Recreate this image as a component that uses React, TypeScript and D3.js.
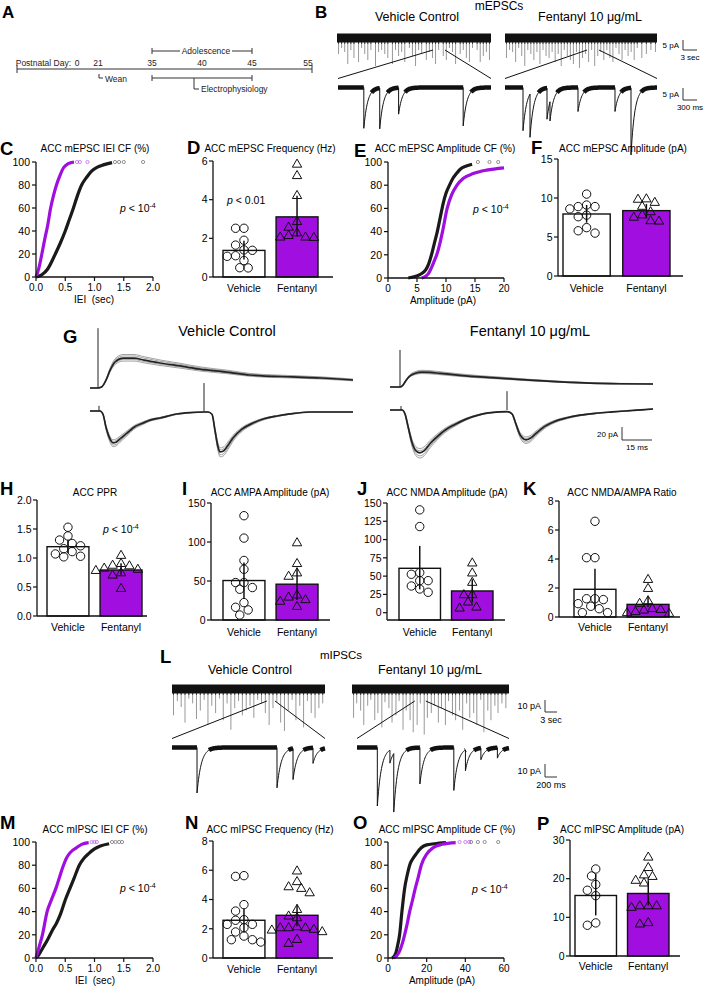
import React from "react";
import * as d3 from "d3";

const FONT = "'Liberation Sans', Arial, Helvetica, sans-serif";
const PURPLE = "#A00FDF";
const INK = "#111";

// ---------------- Panel A (timeline) ----------------
const timelineDays = [0, 21, 35, 40, 45, 55];
const adolescenceDays = [35, 45];
const ephysDays = [35, 45];
const ephysMarkerDay = 39.2;
const weanDay = 21;

// ---------------- Panel B (mEPSC traces) ----------------
const vehBPos = [0.01,0.03,0.05,0.07,0.09,0.11,0.14,0.16,0.18,0.2,0.22,0.25,0.27,0.29,0.31,0.33,0.36,0.38,0.4,0.42,0.44,0.47,0.49,0.51,0.53,0.55,0.58,0.6,0.62,0.64,0.66,0.69,0.71,0.73,0.75,0.77,0.8,0.82,0.84,0.86,0.88,0.91,0.93,0.95,0.97,0.99];
const vehBAmp = [8,5,7,13,6,10,12,5,8,11,6,14,7,6,8,10,13,6,9,7,12,5,9,14,6,8,11,7,10,13,6,9,11,5,7,13,8,6,10,12,5,6,12,9,7,11];
const fenBPos = [0.01,0.03,0.05,0.07,0.09,0.11,0.13,0.15,0.17,0.19,0.21,0.23,0.25,0.27,0.29,0.31,0.33,0.35,0.37,0.39,0.41,0.43,0.45,0.47,0.49,0.51,0.53,0.55,0.57,0.59,0.61,0.63,0.65,0.67,0.69,0.71,0.73,0.75,0.77,0.79,0.81,0.83,0.85,0.87,0.9,0.93,0.96,0.99];
const fenBAmp = [10,6,7,12,5,9,14,6,8,11,7,13,6,9,10,7,12,8,14,6,9,11,13,7,15,10,8,12,6,14,9,7,11,6,10,12,5,8,11,6,9,7,11,5,10,8,6,7];
const vehBZoomT = [557, 900, 1307, 2700];
const vehBZoomA = [17, 17, 11, 16];
const fenBZoomT = [386, 536, 900, 964, 1564, 2357, 2700];
const fenBZoomA = [18, 18, 13, 8, 10, 10, 28];

// ---------------- Panel C ----------------
const cVehX = [0, 0.1, 0.2, 0.33, 0.42, 0.5, 0.57, 0.64, 0.71, 0.78, 0.87, 0.95, 1.05, 1.15, 1.3];
const cVehY = [0, 2, 7, 20, 30, 40, 50, 60, 71, 80, 87, 92, 95.5, 97.5, 99.5];
const cFenX = [0, 0.05, 0.1, 0.15, 0.2, 0.25, 0.3, 0.35, 0.4, 0.47, 0.55, 0.65];
const cFenY = [0, 8, 20, 33, 45, 60, 71, 80, 87, 95, 98.5, 100];
const cVehTail = [1.35, 1.42, 1.5, 1.83];
const cFenTail = [0.7, 0.75, 0.88];

// ---------------- Panel D ----------------
const dVeh = [2.52, 2.52, 1.9, 1.65, 1.4, 1.38, 1.07, 1.1, 0.85, 0.47, 0.48];
const dFen = [5.82, 5.23, 4.2, 2.85, 2.05, 2.27, 2.05, 2.56, 2.13, 2.03];
const dMean = [1.375, 3.11];
const dLo = [0.9, 2.1];
const dHi = [1.87, 4.2];

// ---------------- Panel E ----------------
const eVehX = [3.5, 4.5, 5.5, 6.5, 7, 7.5, 8, 8.5, 9, 9.5, 10, 10.6, 11.2, 11.8, 12.5, 13.5, 14.5];
const eVehY = [0, 1, 3, 7, 12, 20, 30, 40, 52, 64, 73, 80, 86, 90, 94, 96.5, 98];
const eFenX = [5.8, 6.5, 7, 7.5, 8, 8.4, 9, 9.4, 10.2, 11, 11.9, 13, 14.7, 17, 20];
const eFenY = [0, 1.5, 4, 9, 15, 20, 31, 40, 60, 72, 80, 86, 90, 93, 95];
const eVehTail = [15.5, 17.5, 19];
const eFenTail: number[] = [];

// ---------------- Panel F ----------------
const fVeh = [10.5, 8.6, 8.9, 9.1, 8.9, 7.6, 7.8, 6.2, 5.5, 5.8];
const fFen = [9.4, 9.8, 9.85, 8.9, 7.8, 8.2, 7.0, 7.5, 7.05];
const fMean = [7.95, 8.38];
const fLo = [6.83, 7.4];
const fHi = [9.1, 9.24];

// ---------------- Panel G (evoked currents, ms / pA) ----------------
const gVehNT = [0, 4, 6, 8, 10, 12.5, 16.5, 22, 27, 35, 45, 55, 68.5, 80, 101.5, 115, 131.5];
const gVehNV = [0, 0, 2, 12, 27, 40, 46, 46, 43, 38.5, 34, 29, 24.5, 20, 17, 15.4, 12.3];
const gVehAT = [0, 5, 6.5, 8, 10, 11.5, 13, 15, 18.5, 22, 26.5, 30, 35, 43.5, 50, 57, 59, 61, 62.5, 64, 65, 66.5, 68.5, 71.5, 76, 81.5, 87, 93.5, 100, 110, 131.5];
const gVehAV = [0, 0, -5, -25, -43, -49, -48, -43, -34, -25, -18.5, -14, -10.8, -4.6, -2.5, -1.5, -1.5, -5, -30, -55, -63, -62, -55, -41.5, -28, -18.5, -12, -7.7, -4.5, -1.5, -1.5];
const gFenNT = [0, 5, 6.5, 8, 10, 13, 16, 20, 25, 35, 45, 54.5, 70, 85, 100, 115, 131.5];
const gFenNV = [0, 0, 3, 10, 17, 21.5, 23, 22.5, 21, 18, 15.5, 13.8, 10.5, 8, 6, 5, 4.6];
const gFenAT = [0, 6, 7.5, 9, 11, 13, 15, 17, 20, 24, 28, 32, 38, 45, 54.5, 58.5, 61, 63, 65, 68, 70, 73, 77, 82, 88.5, 95, 103, 111, 120, 131.5];
const gFenAV = [0, 0, -6, -25, -50, -63, -66, -63, -52, -40, -30, -23, -14, -7, -3, -2.5, -6, -22, -38, -46, -44, -36, -26, -18, -12, -8, -5, -3, -1, 1.5];
const gVehNStim = [[4, 92]];
const gVehAStim = [[4.5, 8], [57, 43]];
const gFenNStim = [[5, 57]];
const gFenAStim = [[5.5, 6], [58.5, 29]];
const gReplicates = [0.9, 0.95, 1.07, 1.12];
const gDuration = 131.5;

// ---------------- Panel H ----------------
const hVeh = [1.31, 1.38, 1.53, 1.16, 1.11, 1.21, 1.25, 1.03, 1.02, 1.07];
const hFen = [1.04, 0.82, 0.86, 0.9, 0.87, 0.74, 0.7, 0.47, 0.78, 0.8];
const hMean = [1.195, 0.793];
const hLo = [1.08, 0.71];
const hHi = [1.31, 0.91];

// ---------------- Panel I ----------------
const iVeh = [133.7, 105, 76.3, 65, 41.6, 48, 48, 39.4, 22.3, 16.3, 12.9, 6.4];
const iFen = [98.6, 72, 55.7, 60, 29, 31.7, 17, 25.7, 23.6];
const iMean = [50.6, 45.9];
const iLo = [27.9, 25.7];
const iHi = [73.7, 67];

// ---------------- Panel J ----------------
const jVeh = [140.6, 117.8, 52.5, 54.8, 43.8, 36.5, 43.8, 27.9, 32.4];
const jFen = [67.6, 53.9, 41.1, 24.2, 24.2, 14.2, 5.9, 7.3];
const jMean = [60.7, 29.7];
const jLo = [32, 13.7];
const jHi = [91.3, 45.7];

// ---------------- Panel K ----------------
const kVeh = [6.6, 4.09, 4.09, 1.26, 1.2, 1.26, 0.74, 0.92, 0.57, 0.3, 0.3];
const kFen = [2.57, 1.95, 0.92, 1.1, 0.35, 0.5, 0.28, 0.46, 0.57, 0.23];
const kMean = [1.91, 0.87];
const kLo = [0.57, 0.69];
const kHi = [3.33, 1.45];

// ---------------- Panel L (mIPSC traces) ----------------
const vehLPos = [0.01,0.035,0.06,0.085,0.11,0.135,0.16,0.185,0.21,0.235,0.26,0.285,0.31,0.335,0.36,0.385,0.41,0.435,0.46,0.485,0.51,0.535,0.56,0.585,0.61,0.635,0.66,0.685,0.71,0.735,0.76,0.785,0.81,0.835,0.86,0.885,0.91,0.935,0.96,0.985];
const vehLAmp = [22,10,15,28,8,12,25,18,9,30,14,20,8,26,12,34,16,10,22,18,14,24,9,12,20,30,16,11,28,35,18,9,26,14,32,10,20,24,16,12];
const fenLPos = [0.01,0.03,0.055,0.075,0.1,0.12,0.145,0.165,0.19,0.21,0.235,0.255,0.28,0.3,0.325,0.345,0.37,0.39,0.415,0.435,0.46,0.48,0.505,0.525,0.55,0.57,0.595,0.615,0.64,0.66,0.685,0.705,0.73,0.75,0.775,0.795,0.82,0.84,0.865,0.885,0.91,0.93,0.955,0.98];
const fenLAmp = [24,12,18,30,14,9,26,20,32,11,16,28,22,10,34,18,26,36,30,12,38,24,20,14,28,16,30,10,22,26,18,34,12,24,20,30,9,36,18,26,14,20,12,16];
const vehLZoomT = [417, 1750, 2017, 2350];
const vehLZoomA = [35, 31, 24, 12];
const fenLZoomT = [350, 567, 633, 1083, 1667, 1867, 2133, 2417];
const fenLZoomA = [45, 10, 45, 28, 33, 16, 9, 8];

// ---------------- Panel M ----------------
const mVehX = [0, 0.05, 0.12, 0.2, 0.28, 0.35, 0.42, 0.5, 0.58, 0.66, 0.74, 0.82, 0.9, 1.0, 1.1, 1.25];
const mVehY = [0, 3, 9, 16, 24, 30, 38, 50, 60, 70, 80, 86, 90, 94, 96.5, 98.5];
const mFenX = [0, 0.05, 0.11, 0.19, 0.27, 0.34, 0.41, 0.47, 0.52, 0.57, 0.63, 0.69, 0.78, 0.9];
const mFenY = [0, 9, 20, 40, 51, 60, 71, 80, 86, 90, 93, 95, 98, 99.5];
const mVehTail = [1.3, 1.36, 1.42, 1.47];
const mFenTail = [0.95, 1.0, 1.04];

// ---------------- Panel N ----------------
const nVeh = [5.58, 5.63, 3.65, 3.21, 2.62, 2.58, 1.78, 2.07, 2.3, 2.3, 1.5, 1.09, 1.25, 1.25];
const nFen = [5.93, 5.2, 4.74, 4.85, 4.44, 3.3, 2.85, 2.73, 2.05, 2.12, 2.05, 2.05, 1.89, 1.78, 1.94, 1.25, 0.98];
const nMean = [2.58, 2.92];
const nLo = [1.78, 2.17];
const nHi = [3.37, 3.65];

// ---------------- Panel O ----------------
const oVehX = [2, 3, 4, 5, 6, 7.2, 8.6, 10, 11.2, 13, 14.7, 17.2, 20, 24, 30];
const oVehY = [0, 1, 4, 11, 20, 40, 60, 72, 80, 86, 90, 95, 97.5, 98.5, 99.5];
const oFenX = [3, 4.5, 6, 7.5, 8.6, 10, 11.2, 12.7, 14.1, 15.7, 17.2, 20.2, 23.3, 28, 35];
const oFenY = [0, 2, 6, 13, 20, 30, 40, 50, 60, 70, 80, 90, 95, 98, 99.5];
const oVehTail = [43, 46.5, 50, 57];
const oFenTail = [37, 40, 42];

// ---------------- Panel P ----------------
const pVeh = [22.5, 20.7, 18.5, 17, 15.6, 7.95, 8.56];
const pFen = [25.5, 22.8, 20.5, 20.9, 18.8, 19.5, 12.9, 12.5, 12.9, 12.9, 8.2, 8.56];
const pMean = [15.65, 16.17];
const pLo = [10.5, 13.1];
const pHi = [21.2, 19.6];

const groups = ["Vehicle", "Fentanyl"];

// ======================================================================
function Letter({ x, y, t, size = 18.5 }: any) {
  return (
    <text x={x} y={y} fontSize={size} fontWeight="bold" fontFamily={FONT} fill="#000">
      {t}
    </text>
  );
}

function PText({ x, y, v }: any) {
  return (
    <text x={x} y={y} fontSize={10.5} fontFamily={FONT} fill="#000">
      <tspan fontStyle="italic">p</tspan>
      {v ? ` < ${v}` : " < 10"}
      {v ? null : (
        <tspan dy={-4.5} fontSize={7}>
          -4
        </tspan>
      )}
    </text>
  );
}

function swarm(ys: number[], r: number): number[] {
  const idx = ys.map((_, i) => i).sort((a, b) => ys[a] - ys[b]);
  const placed: { x: number; y: number }[] = [];
  const out = new Array(ys.length).fill(0);
  for (const i of idx) {
    for (let k = 0; k < 60; k++) {
      const off = (k % 2 === 0 ? 1 : -1) * Math.ceil(k / 2) * r;
      if (placed.every((p) => Math.hypot(p.x - off, p.y - ys[i]) >= 2 * r * 0.93)) {
        out[i] = off;
        placed.push({ x: off, y: ys[i] });
        break;
      }
    }
  }
  return out;
}

function BarPanel(props: any) {
  const { ax, right, top, bottom, domain, ticks, fmt, band, veh, fen, mean, lo, hi, title, titleX, titleY, letter, letterX, letterY, labelY } = props;
  const y = d3.scaleLinear().domain(domain).range([bottom, top]);
  const xb = d3.scaleBand<string>().domain(groups).range(band).paddingInner(0.21);
  const f = d3.format(fmt || "d");
  const tri = d3.symbol().type(d3.symbolTriangle).size(38)() as string;
  const R = 4.2;
  const sets = [veh, fen];
  return (
    <g fontFamily={FONT}>
      <Letter x={letterX} y={letterY} t={letter} />
      <text x={titleX} y={titleY} fontSize={10} textAnchor="middle">{title}</text>
      {groups.map((g, gi) => (
        <rect key={g} x={xb(g)} y={y(mean[gi])} width={xb.bandwidth()} height={y(domain[0]) - y(mean[gi])}
          fill={gi === 0 ? "#fff" : PURPLE} stroke={INK} strokeWidth={1.4} />
      ))}
      {groups.map((g, gi) => {
        const cx = (xb(g) as number) + xb.bandwidth() / 2;
        const ys = sets[gi].map((v: number) => y(v));
        const offs = swarm(ys, R);
        return ys.map((yy: number, i: number) =>
          gi === 0 ? (
            <circle key={g + i} cx={cx + offs[i]} cy={yy} r={R} fill="none" stroke={INK} strokeWidth={1} />
          ) : (
            <path key={g + i} d={tri} transform={`translate(${cx + offs[i]},${yy})`} fill="none" stroke={INK} strokeWidth={1} />
          )
        );
      })}
      {groups.map((g, gi) => {
        const cx = (xb(g) as number) + xb.bandwidth() / 2;
        return <line key={"e" + g} x1={cx} x2={cx} y1={y(lo[gi])} y2={y(hi[gi])} stroke={INK} strokeWidth={1.5} />;
      })}
      <line x1={ax} x2={ax} y1={top} y2={bottom} stroke={INK} strokeWidth={1.3} />
      <line x1={ax} x2={right} y1={bottom} y2={bottom} stroke={INK} strokeWidth={1.3} />
      {ticks.map((tk: number) => (
        <g key={tk}>
          <line x1={ax - 4} x2={ax} y1={y(tk)} y2={y(tk)} stroke={INK} strokeWidth={1.2} />
          <text x={ax - 5.5} y={y(tk) + 3.8} fontSize={10.5} textAnchor="end">{f(tk)}</text>
        </g>
      ))}
      {groups.map((g) => (
        <text key={"l" + g} x={(xb(g) as number) + xb.bandwidth() / 2} y={labelY} fontSize={10.5} textAnchor="middle">{g}</text>
      ))}
    </g>
  );
}

function CdfPanel(props: any) {
  const { l, r, t, b, xDomain, xTicks, fmt, xLabel, xLabelX, veh, fen, vehTail, fenTail, title, titleX, titleY, letter, letterX, letterY, pX, pY } = props;
  const x = d3.scaleLinear().domain(xDomain).range([l, r]);
  const y = d3.scaleLinear().domain([0, 100]).range([b, t]);
  const line = d3.line<number[]>().x((d) => x(d[0])).y((d) => y(d[1])).curve(d3.curveMonotoneX);
  const f = d3.format(fmt || "d");
  const yTicks = [0, 20, 40, 60, 80, 100];
  return (
    <g fontFamily={FONT}>
      <Letter x={letterX} y={letterY} t={letter} />
      <text x={titleX} y={titleY} fontSize={10} textAnchor="middle">{title}</text>
      <path d={line(veh) as string} fill="none" stroke="#1a1a1a" strokeWidth={3.2} />
      <path d={line(fen) as string} fill="none" stroke={PURPLE} strokeWidth={3.2} />
      {vehTail.map((v: number, i: number) => (
        <circle key={"vt" + i} cx={x(v)} cy={y(100)} r={1.6} fill="none" stroke="#777" strokeWidth={0.8} />
      ))}
      {fenTail.map((v: number, i: number) => (
        <circle key={"ft" + i} cx={x(v)} cy={y(100)} r={1.6} fill="none" stroke={PURPLE} strokeWidth={0.8} opacity={0.6} />
      ))}
      <line x1={l} x2={l} y1={t} y2={b} stroke={INK} strokeWidth={1.3} />
      <line x1={l} x2={r} y1={b} y2={b} stroke={INK} strokeWidth={1.3} />
      {yTicks.map((tk) => (
        <g key={"y" + tk}>
          <line x1={l - 4} x2={l} y1={y(tk)} y2={y(tk)} stroke={INK} strokeWidth={1.2} />
          <text x={l - 6} y={y(tk) + 3.8} fontSize={10.5} textAnchor="end">{tk}</text>
        </g>
      ))}
      {xTicks.map((tk: number) => (
        <g key={"x" + tk}>
          <line x1={x(tk)} x2={x(tk)} y1={b} y2={b + 4} stroke={INK} strokeWidth={1.2} />
          <text x={x(tk)} y={b + 13.5} fontSize={10} textAnchor="middle">{f(tk)}</text>
        </g>
      ))}
      <text x={xLabelX} y={b + 25.5} fontSize={10} textAnchor="middle" xmlSpace="preserve">{xLabel}</text>
      <PText x={pX} y={pY} />
    </g>
  );
}

function Overview({ x0, x1, yc, bandH, pos, amp, pxPerPA }: any) {
  const x = d3.scaleLinear().domain([0, 1]).range([x0, x1]);
  return (
    <g>
      {pos.map((p: number, i: number) => (
        <line key={i} x1={x(p)} x2={x(p)} y1={yc} y2={yc + amp[i] * pxPerPA} stroke="#8c8c8c" strokeWidth={0.9} />
      ))}
      {pos.map((p: number, i: number) => (
        <line key={"k" + i} x1={x(p)} x2={x(p)} y1={yc} y2={yc + bandH / 2 + 1.5} stroke="#333" strokeWidth={0.9} />
      ))}
      <rect x={x0} y={yc - bandH / 2} width={x1 - x0} height={bandH} fill={INK} />
    </g>
  );
}

function ZoomTrace({ x0, x1, yc, dur, evT, evA, pxPerPA, tau }: any) {
  const x = d3.scaleLinear().domain([0, dur]).range([x0, x1]);
  const ts: number[] = d3.range(0, dur, dur / ((x1 - x0) * 2));
  evT.forEach((te: number) => ts.push(te - 0.01, te));
  ts.push(dur);
  ts.sort((a, b) => a - b);
  const pts = ts.map((tt) => {
    let d = 0;
    evT.forEach((te: number, i: number) => {
      if (tt >= te) d += evA[i] * Math.exp(-(tt - te) / tau);
    });
    return [tt, d];
  });
  const thin = d3.line<number[]>().x((p) => x(p[0])).y((p) => yc + p[1] * pxPerPA)(pts) as string;
  const thick = d3
    .line<number[]>()
    .defined((p) => p[1] < 2.2)
    .x((p) => x(p[0]))
    .y((p) => yc + p[1] * pxPerPA)(pts) as string;
  return (
    <g>
      <path d={thin} fill="none" stroke={INK} strokeWidth={1} />
      <path d={thick} fill="none" stroke={INK} strokeWidth={4.5} />
    </g>
  );
}

function TraceSet(props: any) {
  const { ox0, ox1, oyc, obandH, pos, amp, opx, zx0, zx1, zyc, dur, evT, evA, zpx, tau, win } = props;
  const ox = d3.scaleLinear().domain([0, 1]).range([ox0, ox1]);
  return (
    <g>
      <Overview x0={ox0} x1={ox1} yc={oyc} bandH={obandH} pos={pos} amp={amp} pxPerPA={opx} />
      <line x1={ox(win[0])} y1={oyc + 12} x2={zx0} y2={zyc - 9} stroke={INK} strokeWidth={1} />
      <line x1={ox(win[1])} y1={oyc + 12} x2={zx1} y2={zyc - 9} stroke={INK} strokeWidth={1} />
      <ZoomTrace x0={zx0} x1={zx1} yc={zyc} dur={dur} evT={evT} evA={evA} pxPerPA={zpx} tau={tau} />
    </g>
  );
}

function ScaleBar({ x, y0, y1, x1, lab1, lab2, fs }: any) {
  return (
    <g fontFamily={FONT} fontSize={fs}>
      <line x1={x} x2={x} y1={y0} y2={y1} stroke="#333" strokeWidth={1} />
      <line x1={x} x2={x1} y1={y1} y2={y1} stroke="#333" strokeWidth={1} />
      <text x={x - 4} y={(y0 + y1) / 2 + 3} textAnchor="end">{lab1}</text>
      <text x={(x + x1) / 2} y={y1 + fs + 2} textAnchor="middle">{lab2}</text>
    </g>
  );
}

function Evoked({ x0, yBase, t, v, stims }: any) {
  const x = d3.scaleLinear().domain([0, gDuration]).range([x0, x0 + gDuration * 2]);
  const y = d3.scaleLinear().domain([0, 20]).range([yBase, yBase - 13]);
  const pts = d3.zip(t, v) as number[][];
  const mk = (s: number) =>
    d3.line<number[]>().x((d) => x(d[0])).y((d) => y(d[1] * s)).curve(d3.curveMonotoneX)(pts) as string;
  return (
    <g>
      {gReplicates.map((s, i) => (
        <path key={i} d={mk(s)} fill="none" stroke="#9a9a9a" strokeWidth={0.9} />
      ))}
      <path d={mk(1)} fill="none" stroke="#222" strokeWidth={1.7} />
      {stims.map((s: number[], i: number) => (
        <line key={"s" + i} x1={x(s[0])} x2={x(s[0])} y1={y(0)} y2={y(s[1])} stroke="#222" strokeWidth={1} />
      ))}
    </g>
  );
}

function PanelA() {
  const x = d3.scaleLinear().domain(timelineDays).range([77, 98, 152, 202, 252, 308]);
  const fs = 8.5;
  return (
    <g fontFamily={FONT} fontSize={fs} fill="#222">
      <Letter x={2} y={18} t="A" size={17} />
      <line x1={17} x2={312} y1={69} y2={69} stroke="#333" strokeWidth={1} />
      <line x1={17} x2={17} y1={65} y2={73} stroke="#333" />
      <line x1={312} x2={312} y1={65} y2={73} stroke="#333" />
      <text x={71} y={66} textAnchor="end">Postnatal Day:</text>
      {timelineDays.map((d) => (
        <text key={d} x={x(d)} y={66} textAnchor="middle">{d}</text>
      ))}
      <line x1={x(adolescenceDays[0])} x2={x(adolescenceDays[1])} y1={51} y2={51} stroke="#333" />
      <line x1={x(adolescenceDays[0])} x2={x(adolescenceDays[0])} y1={48} y2={54} stroke="#333" />
      <line x1={x(adolescenceDays[1])} x2={x(adolescenceDays[1])} y1={48} y2={54} stroke="#333" />
      <rect x={180} y={46} width={52} height={10} fill="#fff" />
      <text x={(x(adolescenceDays[0]) + x(adolescenceDays[1])) / 2 + 4} y={54} textAnchor="middle">Adolescence</text>
      <path d={`M${x(weanDay) + 1},74 V78 H${x(weanDay) + 5}`} fill="none" stroke="#333" />
      <text x={x(weanDay) + 7} y={82}>Wean</text>
      <line x1={x(ephysDays[0])} x2={x(ephysDays[1])} y1={78} y2={78} stroke="#333" />
      <line x1={x(ephysDays[0])} x2={x(ephysDays[0])} y1={75} y2={81} stroke="#333" />
      <line x1={x(ephysDays[1])} x2={x(ephysDays[1])} y1={75} y2={81} stroke="#333" />
      <path d={`M${x(ephysMarkerDay)},78 V89 H${x(ephysMarkerDay) + 5}`} fill="none" stroke="#333" />
      <text x={x(ephysMarkerDay) + 7} y={92}>Electrophysiology</text>
    </g>
  );
}

export default function App() {
  return (
    <div style={{ position: "absolute", left: 0, top: 0 }}>
      <svg width={708} height={986} viewBox="0 0 708 986" style={{ display: "block", background: "#fff" }}>
        <rect width={708} height={986} fill="#fff" />
        <PanelA />

        {/* Panel B */}
        <g fontFamily={FONT}>
          <Letter x={315} y={18} t="B" size={17} />
          <text x={499} y={10} fontSize={12} textAnchor="middle">mEPSCs</text>
          <text x={417} y={21} fontSize={12.5} textAnchor="middle">Vehicle Control</text>
          <text x={590} y={21} fontSize={12.5} textAnchor="middle">Fentanyl 10 μg/mL</text>
        </g>
        <TraceSet ox0={337} ox1={491} oyc={38} obandH={9} pos={vehBPos} amp={vehBAmp} opx={2}
          zx0={338} zx1={491} zyc={87.5} dur={3300} evT={vehBZoomT} evA={vehBZoomA} zpx={2.4} tau={80} win={[0.623, 0.701]} />
        <TraceSet ox0={505} ox1={657} oyc={38} obandH={9} pos={fenBPos} amp={fenBAmp} opx={2}
          zx0={505} zx1={657} zyc={87.5} dur={3257} evT={fenBZoomT} evA={fenBZoomA} zpx={2.4} tau={80} win={[0.54, 0.618]} />
        <ScaleBar x={683} y0={40} y1={50} x1={697} lab1="5 pA" lab2="3 sec" fs={8} />
        <ScaleBar x={683} y0={88} y1={100} x1={697} lab1="5 pA" lab2="300 ms" fs={8} />

        {/* Row C-F */}
        <CdfPanel l={36} r={153} t={162} b={277} xDomain={[0, 2]} xTicks={[0, 0.5, 1, 1.5, 2]} fmt=".1f"
          xLabel="IEI  (sec)" xLabelX={94} veh={d3.zip(cVehX, cVehY)} fen={d3.zip(cFenX, cFenY)} vehTail={cVehTail} fenTail={cFenTail}
          title="ACC mEPSC IEI CF (%)" titleX={95} titleY={152} letter="C" letterX={0} letterY={155} pX={120} pY={212} />
        <BarPanel ax={213} right={333} top={161} bottom={277} domain={[0, 6]} ticks={[0, 2, 4, 6]} band={[223, 318]}
          veh={dVeh} fen={dFen} mean={dMean} lo={dLo} hi={dHi} title="ACC mEPSC Frequency (Hz)" titleX={270} titleY={152}
          letter="D" letterX={187} letterY={154} labelY={292} />
        <PText x={227} y={204} v="0.01" />
        <CdfPanel l={388} r={504} t={162} b={278} xDomain={[0, 20]} xTicks={[0, 5, 10, 15, 20]} fmt="d"
          xLabel="Amplitude (pA)" xLabelX={443} veh={d3.zip(eVehX, eVehY)} fen={d3.zip(eFenX, eFenY)} vehTail={eVehTail} fenTail={eFenTail}
          title="ACC mEPSC Amplitude CF (%)" titleX={445} titleY={152} letter="E" letterX={354} letterY={157} pX={473} pY={213} />
        <BarPanel ax={558} right={683} top={159} bottom={276} domain={[0, 15]} ticks={[0, 5, 10, 15]} band={[563, 670]}
          veh={fVeh} fen={fFen} mean={fMean} lo={fLo} hi={fHi} title="ACC mEPSC Amplitude (pA)" titleX={623} titleY={152}
          letter="F" letterX={531} letterY={154} labelY={292} />

        {/* Panel G */}
        <g fontFamily={FONT}>
          <Letter x={63} y={343} t="G" />
          <text x={227} y={336} fontSize={14.5} textAnchor="middle">Vehicle Control</text>
          <text x={530} y={336} fontSize={14.5} textAnchor="middle">Fentanyl 10 μg/mL</text>
        </g>
        <Evoked x0={90} yBase={388} t={gVehNT} v={gVehNV} stims={gVehNStim} />
        <Evoked x0={90} yBase={411} t={gVehAT} v={gVehAV} stims={gVehAStim} />
        <Evoked x0={390} yBase={387} t={gFenNT} v={gFenNV} stims={gFenNStim} />
        <Evoked x0={390} yBase={410} t={gFenAT} v={gFenAV} stims={gFenAStim} />
        <ScaleBar x={622} y0={427} y1={440} x1={652} lab1="20 pA" lab2="15 ms" fs={8} />

        {/* Row H-K */}
        <BarPanel ax={37} right={147} top={500} bottom={616} domain={[0, 2]} ticks={[0, 0.5, 1, 1.5, 2]} fmt=".1f" band={[47, 142]}
          veh={hVeh} fen={hFen} mean={hMean} lo={hLo} hi={hHi} title="ACC PPR" titleX={95} titleY={496}
          letter="H" letterX={0} letterY={495} labelY={631} />
        <PText x={103} y={533} />
        <BarPanel ax={211} right={330} top={503} bottom={620} domain={[0, 150]} ticks={[0, 50, 100, 150]} band={[223, 318]}
          veh={iVeh} fen={iFen} mean={iMean} lo={iLo} hi={iHi} title="ACC AMPA Amplitude (pA)" titleX={270} titleY={496}
          letter="I" letterX={182} letterY={495} labelY={636} />
        <BarPanel ax={387} right={505} top={503} bottom={620} domain={[-10, 150]} ticks={[0, 25, 50, 75, 100, 125, 150]} band={[399, 493]}
          veh={jVeh} fen={jFen} mean={jMean} lo={jLo} hi={jHi} title="ACC NMDA Amplitude (pA)" titleX={447} titleY={496}
          letter="J" letterX={357} letterY={495} labelY={636} />
        <BarPanel ax={559} right={680} top={501} bottom={617} domain={[0, 8]} ticks={[0, 2, 4, 6, 8]} band={[574, 669]}
          veh={kVeh} fen={kFen} mean={kMean} lo={kLo} hi={kHi} title="ACC NMDA/AMPA Ratio" titleX={622} titleY={496}
          letter="K" letterX={523} letterY={495} labelY={631} />

        {/* Panel L */}
        <g fontFamily={FONT}>
          <Letter x={160} y={663} t="L" />
          <text x={341} y={659} fontSize={11.5} textAnchor="middle">mIPSCs</text>
          <text x={250} y={674} fontSize={12.5} textAnchor="middle">Vehicle Control</text>
          <text x={430} y={674} fontSize={12.5} textAnchor="middle">Fentanyl 10 μg/mL</text>
        </g>
        <TraceSet ox0={172} ox1={325} oyc={689} obandH={9} pos={vehLPos} amp={vehLAmp} opx={1.2}
          zx0={172} zx1={325} zyc={747.5} dur={2550} evT={vehLZoomT} evA={vehLZoomA} zpx={1.3} tau={70} win={[0.62, 0.673]} />
        <TraceSet ox0={352} ox1={509} oyc={689} obandH={9} pos={fenLPos} amp={fenLAmp} opx={1.2}
          zx0={357} zx1={509} zyc={747.5} dur={2617} evT={fenLZoomT} evA={fenLZoomA} zpx={1.3} tau={70} win={[0.4, 0.47]} />
        <ScaleBar x={545} y0={700} y1={712} x1={557} lab1="10 pA" lab2="3 sec" fs={9} />
        <ScaleBar x={545} y0={764} y1={777} x1={557} lab1="10 pA" lab2="200 ms" fs={9} />

        {/* Row M-P */}
        <CdfPanel l={36} r={153} t={842} b={958} xDomain={[0, 2]} xTicks={[0, 0.5, 1, 1.5, 2]} fmt=".1f"
          xLabel="IEI  (sec)" xLabelX={95} veh={d3.zip(mVehX, mVehY)} fen={d3.zip(mFenX, mFenY)} vehTail={mVehTail} fenTail={mFenTail}
          title="ACC mIPSC IEI CF (%)" titleX={95} titleY={833} letter="M" letterX={0} letterY={829} pX={120} pY={892} />
        <BarPanel ax={213} right={333} top={841} bottom={958} domain={[0, 8]} ticks={[0, 2, 4, 6, 8]} band={[223, 318]}
          veh={nVeh} fen={nFen} mean={nMean} lo={nLo} hi={nHi} title="ACC mIPSC Frequency (Hz)" titleX={270} titleY={833}
          letter="N" letterX={185} letterY={829} labelY={973} />
        <CdfPanel l={388} r={504} t={842} b={958} xDomain={[0, 60]} xTicks={[0, 20, 40, 60]} fmt="d"
          xLabel="Amplitude (pA)" xLabelX={442} veh={d3.zip(oVehX, oVehY)} fen={d3.zip(oFenX, oFenY)} vehTail={oVehTail} fenTail={oFenTail}
          title="ACC mIPSC Amplitude CF (%)" titleX={447} titleY={833} letter="O" letterX={353} letterY={829} pX={472} pY={893} />
        <BarPanel ax={570} right={680} top={840} bottom={956} domain={[0, 30]} ticks={[0, 10, 20, 30]} band={[575, 669]}
          veh={pVeh} fen={pFen} mean={pMean} lo={pLo} hi={pHi} title="ACC mIPSC Amplitude (pA)" titleX={622} titleY={833}
          letter="P" letterX={537} letterY={830} labelY={970} />
      </svg>
    </div>
  );
}
